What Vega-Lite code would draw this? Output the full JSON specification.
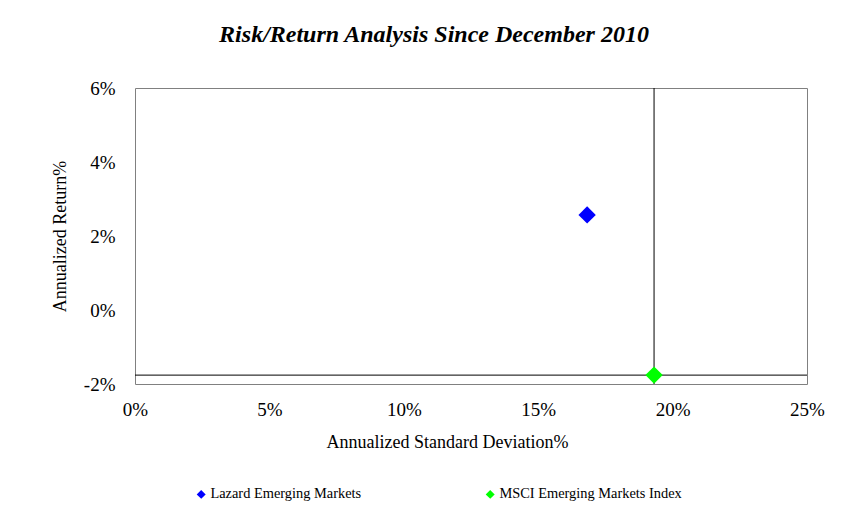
{
  "$schema": "https://vega.github.io/schema/vega-lite/v6.json",
  "width": 672,
  "height": 296,
  "autosize": {"type": "none"},
  "padding": {"left": 135, "top": 88, "right": 58, "bottom": 137},
  "background": "white",
  "config": {
    "font": "Liberation Serif",
    "view": {"stroke": "#808080", "strokeWidth": 1},
    "axis": {"grid": false, "domain": false, "ticks": false, "labelColor": "black", "titleColor": "black", "labelFont": "Liberation Serif", "titleFont": "Liberation Serif", "titleFontWeight": "normal"}
  },
  "title": {
    "text": "Risk/Return Analysis Since December 2010",
    "font": "Liberation Serif",
    "fontSize": 24,
    "fontWeight": "bold",
    "fontStyle": "italic",
    "color": "black",
    "anchor": "middle",
    "dx": -37,
    "offset": 32
  },
  "data": {
    "values": [
      {"series": "Lazard Emerging Markets", "sd": 16.82, "ret": 2.57},
      {"series": "MSCI Emerging Markets Index", "sd": 19.31, "ret": -1.76}
    ]
  },
  "layer": [
    {
      "transform": [{"filter": "datum.series === 'MSCI Emerging Markets Index'"}],
      "mark": {"type": "rule", "color": "black", "strokeWidth": 1},
      "encoding": {"x": {"field": "sd", "type": "quantitative", "scale": {"domain": [0, 25]}}}
    },
    {
      "transform": [{"filter": "datum.series === 'MSCI Emerging Markets Index'"}],
      "mark": {"type": "rule", "color": "black", "strokeWidth": 1},
      "encoding": {"y": {"field": "ret", "type": "quantitative", "scale": {"domain": [-2, 6]}}}
    },
    {
      "mark": {"type": "point", "shape": "diamond", "filled": true, "size": 300, "opacity": 1},
      "encoding": {
        "x": {
          "field": "sd", "type": "quantitative",
          "scale": {"domain": [0, 25], "nice": false},
          "axis": {"values": [0, 5, 10, 15, 20, 25], "labelExpr": "datum.value + '%'", "labelFontSize": 19, "labelFlush": false, "labelPadding": 16, "title": "Annualized Standard Deviation%", "titleFontSize": 18, "titlePadding": 14, "titleX": 312}
        },
        "y": {
          "field": "ret", "type": "quantitative",
          "scale": {"domain": [-2, 6], "nice": false},
          "axis": {"values": [-2, 0, 2, 4, 6], "labelExpr": "datum.value + '%'", "labelFontSize": 19, "labelFlush": false, "labelPadding": 20, "title": "Annualized Return%", "titleFontSize": 18, "titlePadding": 14}
        },
        "color": {
          "field": "series", "type": "nominal",
          "scale": {"domain": ["Lazard Emerging Markets", "MSCI Emerging Markets Index"], "range": ["#0000FF", "#00FF00"]},
          "legend": {"orient": "none", "direction": "horizontal", "legendX": 59, "legendY": 399, "title": null, "symbolType": "diamond", "symbolSize": 80, "symbolOpacity": 1, "symbolStrokeWidth": 0, "labelFontSize": 14.4, "labelColor": "black", "labelFont": "Liberation Serif", "labelLimit": 400, "columnPadding": 121, "labelOffset": 2}
        }
      }
    }
  ]
}
